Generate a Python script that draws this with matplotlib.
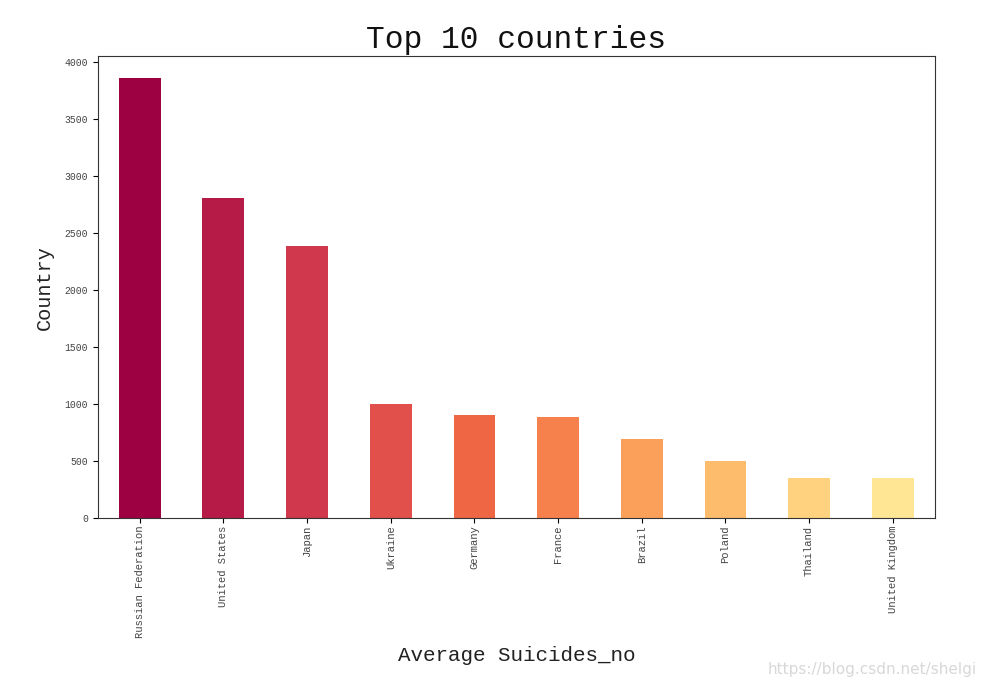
import numpy as np
import matplotlib
matplotlib.use("Agg")
import matplotlib.pyplot as plt

countries = ["Russian Federation", "United States", "Japan", "Ukraine", "Germany",
             "France", "Brazil", "Poland", "Thailand", "United Kingdom"]
avg_suicides = [3858, 2808, 2385, 997, 900, 890, 690, 497, 352, 350]

mono = "Liberation Mono"
colors = plt.cm.Spectral(np.linspace(0, 0.42, len(countries)))

fig = plt.figure(figsize=(9.89, 6.87), dpi=100)
ax = fig.add_axes([0.099, 0.246, 0.846, 0.672])

x = np.arange(len(countries))
ax.bar(x, avg_suicides, width=0.5, color=colors)
ax.set_xlim(-0.5, len(countries) - 0.5)

ax.set_xticks(x)
ax.set_xticklabels(countries, rotation=90, fontsize=7.6, family=mono, color="#444444")
ax.tick_params(axis="x", pad=2)
for lab in ax.get_yticklabels():
    lab.set_fontsize(7)
    lab.set_family(mono)
    lab.set_color("#444444")

ax.set_title("Top 10 countries", fontsize=22.5, family=mono, color="#111111", pad=6)
ax.set_xlabel("Average Suicides_no", fontsize=15, family=mono, color="#222222", labelpad=6)
ax.set_ylabel("Country", fontsize=14.6, family=mono, color="#222222", labelpad=8)

for s in ax.spines.values():
    s.set_color("#333333")

fig.text(0.988, 0.014, "https://blog.csdn.net/shelgi", ha="right", va="bottom",
         fontsize=11, color="#d8d8d8")

fig.savefig("out.png", dpi=100)
